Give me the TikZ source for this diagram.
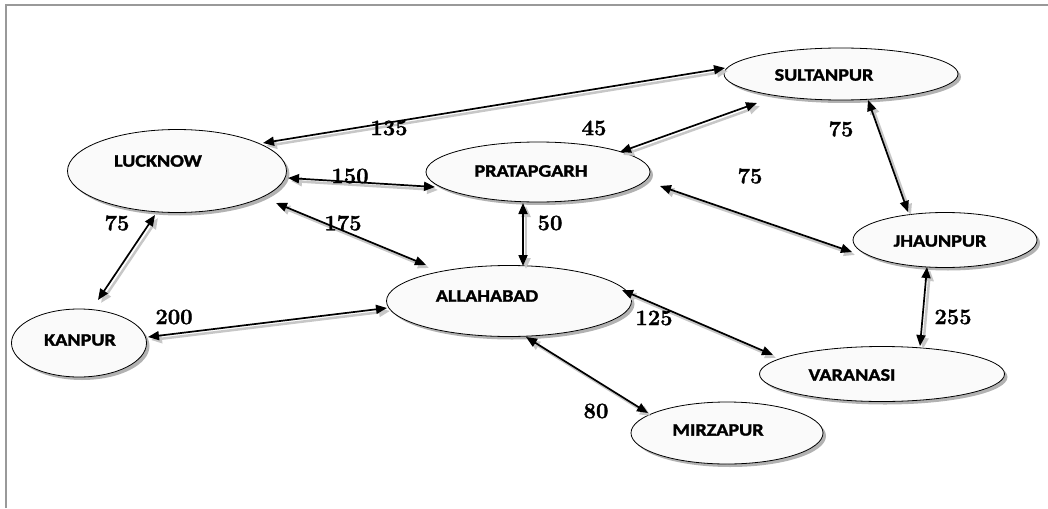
\documentclass[tikz,border=0pt]{standalone}
\usepackage{fontspec}
\newfontfamily\cityfont[FakeStretch=1.15,BoldFeatures={FakeBold=1.6}]{Carlito}
\newfontfamily\numfont[BoldFeatures={FakeBold=1.4}]{Latin Modern Roman}
\usetikzlibrary{arrows.meta,calc,shadows,shapes.geometric}
\begin{document}
\begin{tikzpicture}[x=1pt,y=-1pt,
  city/.style={ellipse, draw=black, line width=0.8pt, fill=gray!4, inner sep=0pt, outer sep=0pt,
    drop shadow={shadow xshift=3pt, shadow yshift=-3pt, fill=black, opacity=.3}},
  citytext/.style={font=\cityfont\bfseries\fontsize{17.5}{20}\selectfont, inner sep=0pt},
  dist/.style={font=\numfont\bfseries\fontsize{22}{24}\selectfont, inner sep=0pt},
  link/.style={{Triangle[length=11pt,width=9pt]}-{Triangle[length=11pt,width=9pt]}, line width=1.7pt,
    preaction={draw=black!22, line width=2.5pt, transform canvas={xshift=3pt,yshift=-3pt}}},
  frame/.style={draw=black!40, line width=1.6pt}
]
\useasboundingbox (0,0) rectangle (1048,508);
\draw[frame] (6,508) -- (6,5) -- (1048,5);

% cities
\node[city, minimum width=219pt, minimum height=83pt,
  label={[citytext, xshift=-19pt, yshift=10pt]center:LUCKNOW}] (luck) at (177,171) {};
\node[city, minimum width=224pt, minimum height=60pt,
  label={[citytext, xshift=-7pt, yshift=1pt]center:PRATAPGARH}] (prat) at (538,172) {};
\node[city, minimum width=234pt, minimum height=52pt,
  label={[citytext, xshift=-17pt, yshift=-1pt]center:SULTANPUR}] (sult) at (841,74) {};
\node[city, minimum width=184pt, minimum height=55pt,
  label={[citytext, xshift=-5pt, yshift=-1pt]center:JHAUNPUR}] (jhau) at (945,240) {};
\node[city, minimum width=245pt, minimum height=71pt,
  label={[citytext, xshift=-22pt, yshift=5pt]center:ALLAHABAD}] (alla) at (509,301) {};
\node[city, minimum width=135pt, minimum height=68pt,
  label={[citytext, xshift=1pt, yshift=3pt]center:KANPUR}] (kanp) at (79,343) {};
\node[city, minimum width=245pt, minimum height=55pt,
  label={[citytext, xshift=-30pt, yshift=-1pt]center:VARANASI}] (vara) at (882,374) {};
\node[city, minimum width=192pt, minimum height=62pt,
  label={[citytext, xshift=-9pt, yshift=3pt]center:MIRZAPUR}] (mirz) at (727,433) {};

% connectors
\draw[link] ($(luck)+(86,-28)$) -- ($(sult)+(-116,-6)$);
\draw[link] ($(luck)+(111,7)$) -- ($(prat)+(-103,15)$);
\draw[link] ($(prat)+(82,-20)$) -- ($(sult)+(-84,29)$);
\draw[link] ($(sult)+(27,26)$) -- ($(jhau)+(-37,-28)$);
\draw[link] ($(prat)+(122,14)$) -- ($(jhau)+(-93,12)$);
\draw[link] ($(luck)+(99,32)$) -- ($(alla)+(-83,-36)$);
\draw[link] ($(prat)+(-15,31)$) -- ($(alla)+(14,-35)$);
\draw[link] ($(luck)+(-22,44)$) -- ($(kanp)+(19,-43)$);
\draw[link] ($(kanp)+(69,-6)$) -- ($(alla)+(-122,7)$);
\draw[link] ($(jhau)+(-18,27)$) -- ($(vara)+(38,-28)$);
\draw[link] ($(alla)+(113,-11)$) -- ($(vara)+(-109,-19)$);
\draw[link] ($(alla)+(17,36)$) -- ($(mirz)+(-79,-20)$);

% distances
\node[dist] (d1) at (389,128) {135};
\node[dist] (d2) at (350,176) {150};
\node[dist] (d3) at (594,128) {45};
\node[dist] (d4) at (841,129) {75};
\node[dist] (d5) at (750,176) {75};
\node[dist] (d6) at (343,223) {175};
\node[dist] (d7) at (550,223) {50};
\node[dist] (d8) at (117,223) {75};
\node[dist] (d9) at (174,317) {200};
\node[dist] (d10) at (953,317) {255};
\node[dist] (d11) at (654,318) {125};
\node[dist] (d12) at (596,411) {80};
\end{tikzpicture}
\end{document}
